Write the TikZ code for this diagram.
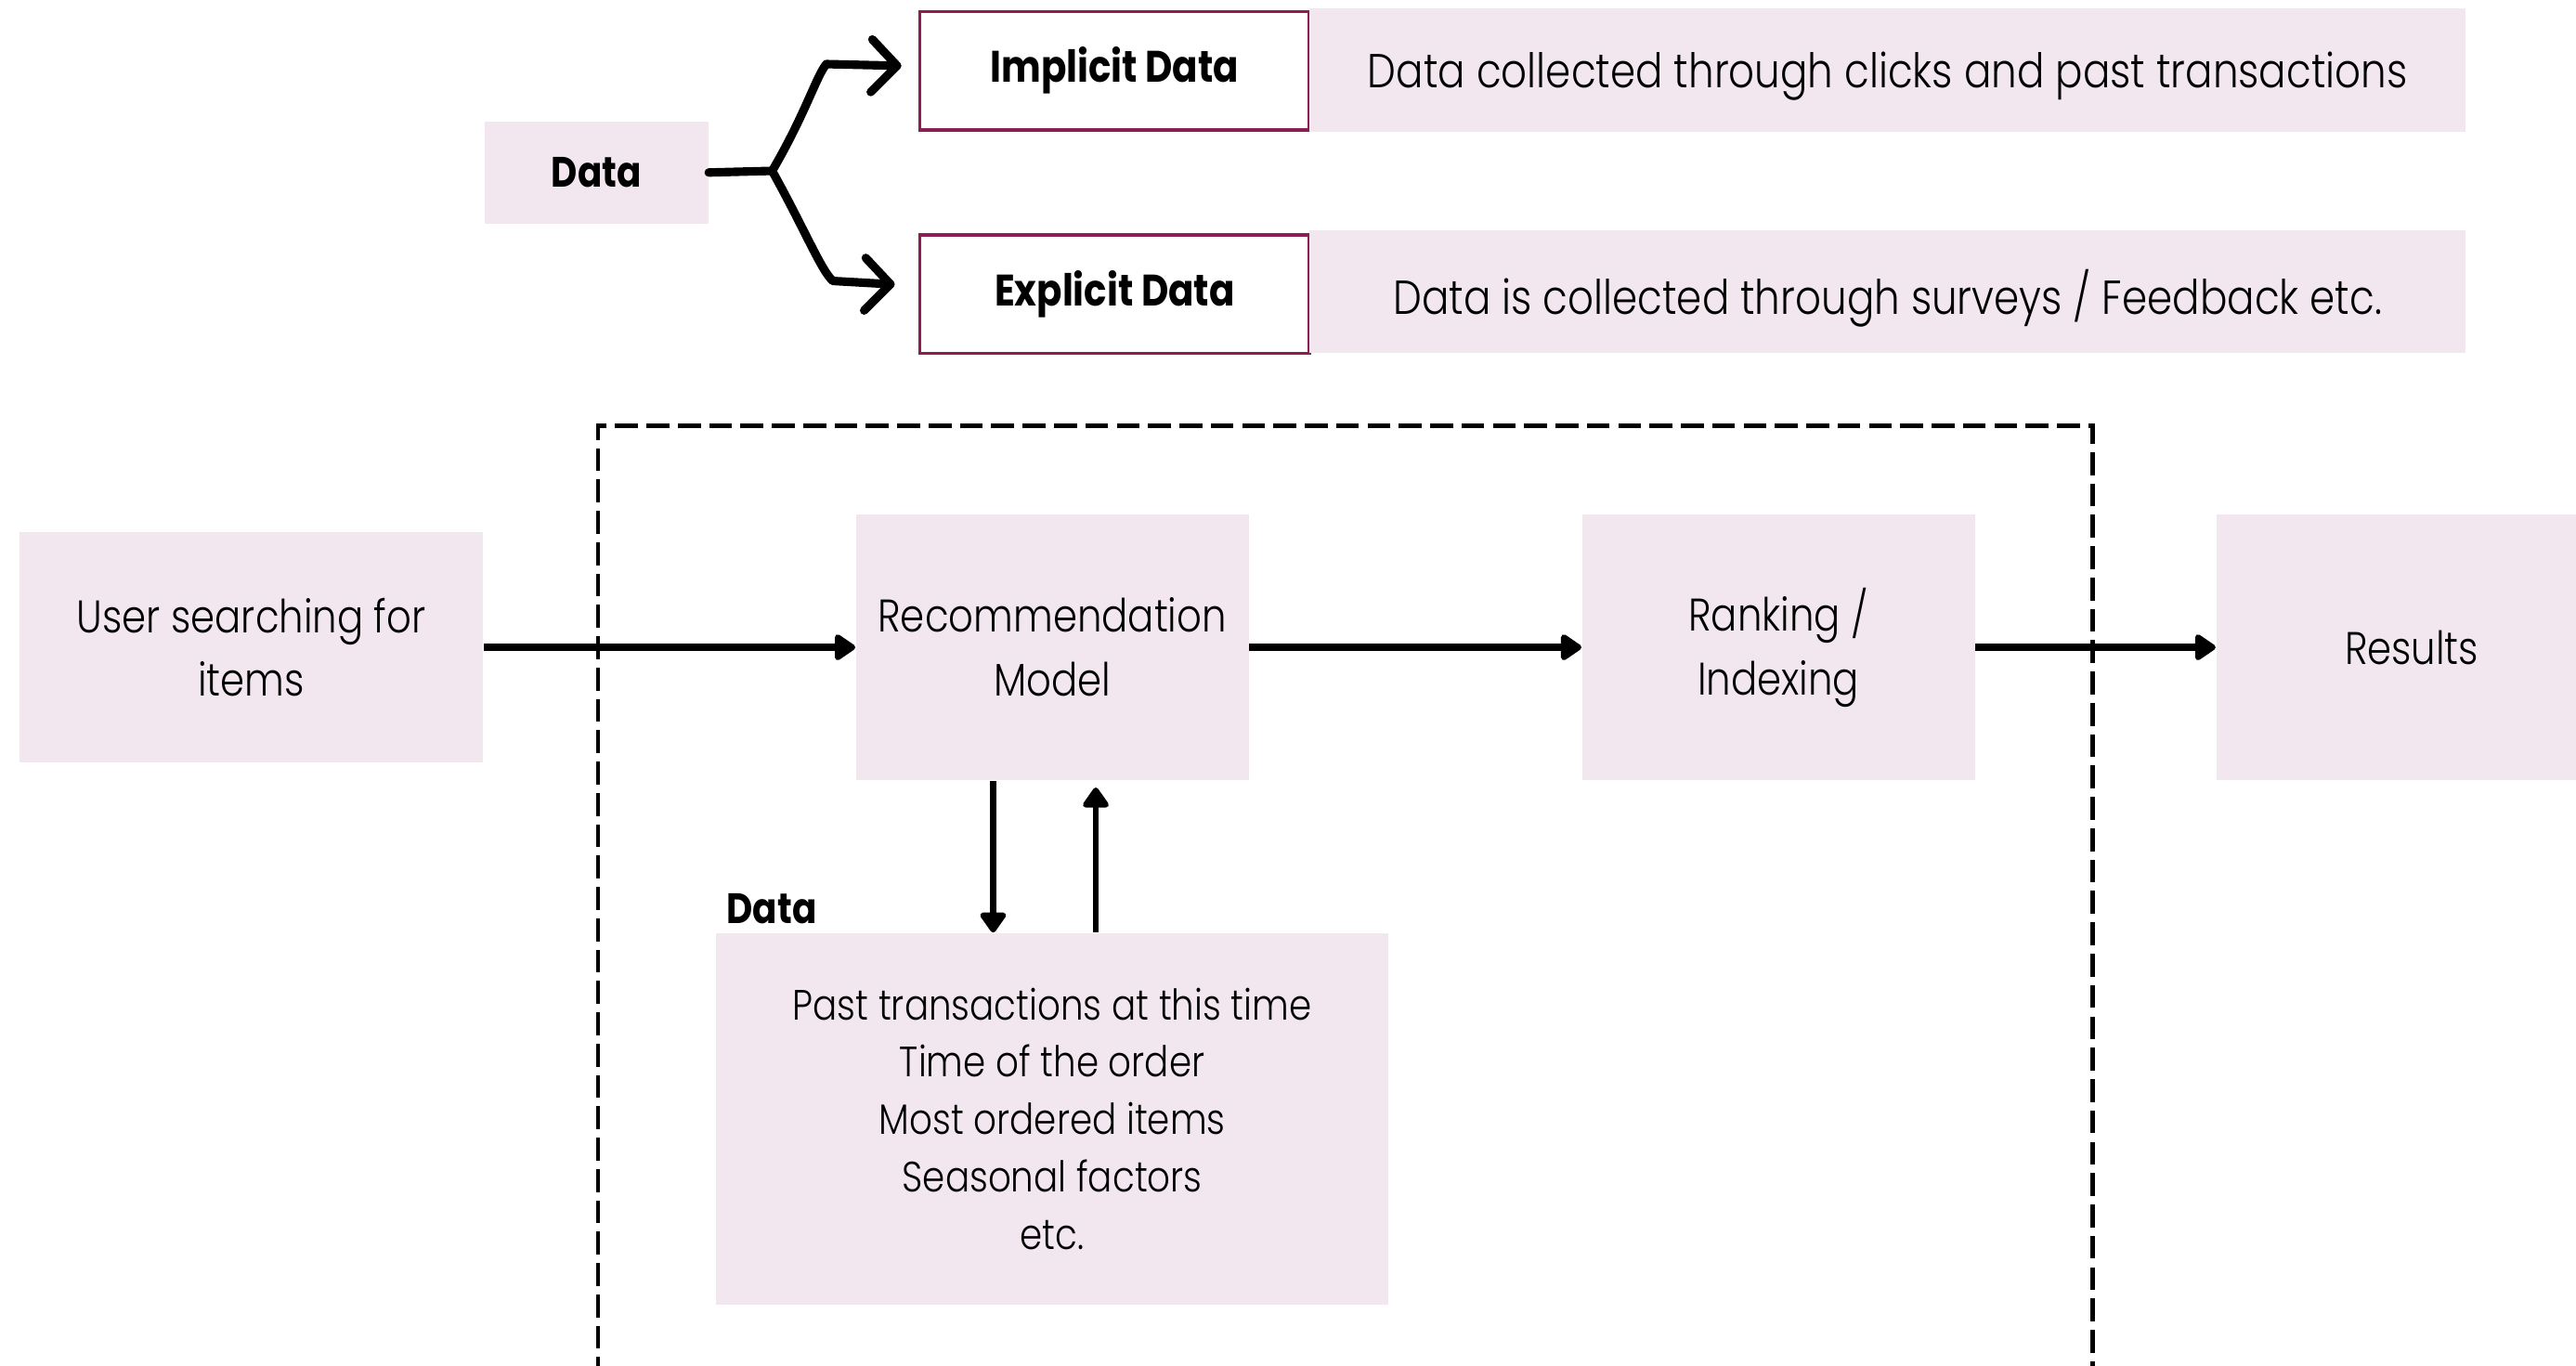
\documentclass[tikz,border=0pt]{standalone}
\usepackage{fontspec}
\IfFontExistsTF{Poppins Light}
  {\setmainfont[FakeStretch=0.85, BoldFont={Poppins Bold}]{Poppins Light}}
  {\setmainfont[FakeStretch=0.85]{Poppins}}
\usetikzlibrary{arrows.meta}
\definecolor{boxpink}{HTML}{F2E7EE}
\definecolor{framered}{HTML}{8C1D55}
\def\px{0.017691cm}
\tikzset{
  pinkbox/.style={fill=boxpink, draw=none, inner sep=0pt, align=center,
    font=\fontsize{14}{19.6}\selectfont},
  descbox/.style={pinkbox, text depth=0pt, font=\fontsize{14.6}{19.6}\selectfont},
  listbox/.style={fill=boxpink, draw=none, inner sep=0pt, align=center,
    font=\fontsize{13}{17.6}\selectfont},
  framebox/.style={fill=white, draw=framered, line width=1pt, inner sep=0pt,
    font=\bfseries\fontsize{13.5}{16}\selectfont},
  boldlabel/.style={inner sep=0pt, font=\bfseries\fontsize{13}{16}\selectfont},
  flow/.style={line width=2.1pt, -{Triangle[length=7pt,width=9pt,round]}},
  thinflow/.style={line width=1.9pt, -{Triangle[length=6.8pt,width=9pt,round]}},
  sketch/.style={line width=2.6pt, line join=round, line cap=round},
  frame/.style={line width=1.4pt, dash pattern=on 7pt off 2.6pt}
}
\begin{document}
\begin{tikzpicture}[x=\px, y=-\px]
\useasboundingbox (0,0) rectangle (1568,831);
\clip (0,0) rectangle (1568,831);
\fill[white] (0,0) rectangle (1568,831);

% dashed frame (open at the bottom)
\draw[frame] (364,840) -- (364,259) -- (1274,259) -- (1274,840);

% top part
\node[pinkbox, minimum width=136*\px, minimum height=62*\px,
      font=\bfseries\fontsize{13}{16}\selectfont] (data) at (363,105) {Data};
\node[framebox, minimum width=237*\px, minimum height=72*\px] (impl) at (678.5,43) {Implicit Data};
\node[framebox, minimum width=237*\px, minimum height=72*\px] (expl) at (678.5,179) {Explicit Data};
\node[descbox, minimum width=704*\px, minimum height=75*\px] (impldesc) at (1149,42.5)
  {Data collected through clicks and past transactions};
\node[descbox, minimum width=704*\px, minimum height=75*\px] (expldesc) at (1149,177.5)
  {Data is collected through surveys / Feedback etc.};

\coordinate (junc) at (470,104);
\coordinate (upA) at (503,39);
\coordinate (upTip) at (546,40);
\coordinate (dnA) at (507,171);
\coordinate (dnTip) at (542,173);
\draw[sketch] (data.east) -- (junc);
\draw[sketch] (junc) .. controls (490,70) and (497,46) .. (upA) -- (upTip);
\draw[sketch] (531,24) -- (upTip) -- (530,56);
\draw[sketch] (junc) .. controls (490,140) and (500,165) .. (dnA) -- (dnTip);
\draw[sketch] (527,157) -- (dnTip) -- (526,189);

% main flow
\node[pinkbox, minimum width=282*\px, minimum height=140*\px] (user) at (153,394) {User searching for\\items};
\node[pinkbox, minimum width=239*\px, minimum height=162*\px] (rec) at (640.5,394) {Recommendation\\Model};
\node[pinkbox, minimum width=239*\px, minimum height=162*\px] (rank) at (1082.5,394) {Ranking /\\Indexing};
\node[pinkbox, minimum width=238*\px, minimum height=162*\px] (res) at (1468,394) {Results};

\draw[flow] (user) -- (rec);
\draw[flow] (rec) -- (rank);
\draw[flow] (rank) -- (res);

% data feeding the model
\node[listbox, minimum width=409*\px, minimum height=226*\px] (list) at (640.5,681)
  {Past transactions at this time\\Time of the order\\Most ordered items\\Seasonal factors\\etc.};
\node[boldlabel, anchor=west] (datalbl) at (442,553) {Data};

\draw[thinflow] (rec.south -| 604.5,0) -- (list.north -| 604.5,0);
\draw[thinflow, shorten >=2pt] (list.north -| 667,0) -- (rec.south -| 667,0);
\end{tikzpicture}
\end{document}
